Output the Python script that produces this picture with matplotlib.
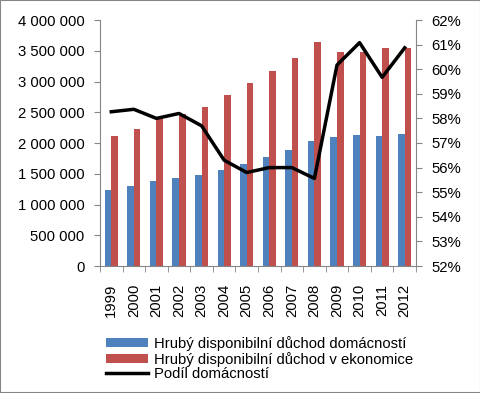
import numpy as np
import matplotlib
matplotlib.use('Agg')
import matplotlib.pyplot as plt
from matplotlib.ticker import FuncFormatter, PercentFormatter

years = ["1999", "2000", "2001", "2002", "2003", "2004", "2005",
         "2006", "2007", "2008", "2009", "2010", "2011", "2012"]
households = [1236000, 1300000, 1382000, 1431000, 1485000, 1561000, 1659000,
              1777000, 1886000, 2033000, 2098000, 2130000, 2114000, 2146000]
economy = [2114000, 2228000, 2385000, 2471000, 2585000, 2780000, 2976000,
           3171000, 3382000, 3642000, 3480000, 3480000, 3545000, 3545000]
share = [58.27, 58.37, 58.0, 58.2, 57.7, 56.3, 55.8,
         56.0, 56.0, 55.56, 60.17, 61.08, 59.67, 60.87]

label_hh = "Hrubý disponibilní důchod domácností"
label_ec = "Hrubý disponibilní důchod v ekonomice"
label_share = "Podíl domácností"

plt.rcParams['font.family'] = ['Liberation Sans', 'DejaVu Sans']
plt.rcParams['font.size'] = 10.7

fig = plt.figure(figsize=(4.81, 3.93), dpi=100)
ax = fig.add_axes([100 / 481, 1 - 266 / 393, 316 / 481, 246 / 393])
ax2 = ax.twinx()

x = np.arange(len(years))
w = 0.29
b1 = ax.bar(x - w / 2, households, w, color='#4F81BD', label=label_hh)
b2 = ax.bar(x + w / 2, economy, w, color='#C0504D', label=label_ec)
ln, = ax2.plot(x, share, color='black', linewidth=2.5, label=label_share)

ax.set_xlim(-0.5, len(years) - 0.5)
ax.set_ylim(0, 4000000)
ax.set_yticks(np.arange(0, 4000001, 500000))
ax.yaxis.set_major_formatter(FuncFormatter(lambda v, p: f"{int(v):,}".replace(",", " ")))
ax2.set_ylim(52, 62)
ax2.set_yticks(np.arange(52, 63, 1))
ax2.yaxis.set_major_formatter(PercentFormatter(decimals=0))

ax.set_xticks(x)
ax.set_xticklabels(years, rotation=90)
ax.set_xticks(np.arange(-0.5, len(years), 1), minor=True)
ax.tick_params(axis='x', which='major', length=0, pad=13)
ax.tick_params(axis='x', which='minor', length=4, color='#868686', direction='out')
ax.tick_params(axis='y', length=4, color='#868686', direction='out', pad=7)
ax2.tick_params(axis='y', length=4, color='#868686', direction='out', pad=7)

for a in (ax, ax2):
    a.spines['top'].set_visible(False)
    for s in ('left', 'right', 'bottom'):
        a.spines[s].set_color('#868686')
ax.spines['right'].set_visible(False)
ax2.spines['left'].set_visible(False)
ax2.spines['bottom'].set_visible(False)

fig.legend([b1, b2, ln], [label_hh, label_ec, label_share],
           loc='upper left', bbox_to_anchor=(106 / 481, 1 - 336 / 393),
           frameon=False, handlelength=2.8, handleheight=0.6,
           labelspacing=0.05, handletextpad=0.45, borderaxespad=0, borderpad=0)

fig.patches.append(plt.Rectangle((0, 0), 1, 1, transform=fig.transFigure,
                                 fill=False, edgecolor='#868686', linewidth=1.5))

fig.savefig('out.png', dpi=100)
